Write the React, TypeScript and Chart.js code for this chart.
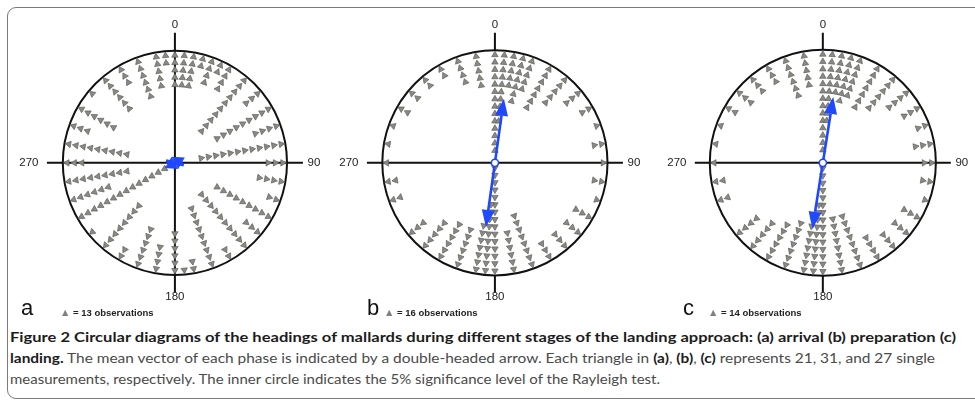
import React, { useEffect, useLayoutEffect, useRef } from "react";
import { Chart, registerables } from "chart.js";

Chart.register(...registerables);

// Headings (degrees clockwise from north) and number of stacked triangles at each heading
const arrivalHeadings = [0, 5, 10, 15, 20, 25, 30, 40, 50, 60, 70, 80, 90, 100, 110, 120, 130, 140, 150, 160, 170, 175, 180, 190, 200, 210, 220, 230, 240, 250, 260, 270, 280, 290, 300, 310, 320, 330, 340, 350, 355];
const arrivalCounts = [5, 5, 5, 2, 4, 2, 4, 10, 3, 9, 4, 12, 3, 4, 2, 9, 3, 10, 2, 9, 2, 1, 6, 4, 6, 2, 8, 1, 14, 6, 9, 3, 9, 3, 6, 1, 6, 3, 6, 5, 2];

const preparationHeadings = [0, 5, 10, 15, 20, 30, 40, 50, 60, 70, 80, 90, 100, 110, 120, 130, 140, 150, 160, 170, 180, 185, 190, 200, 210, 220, 230, 250, 260, 270, 280, 290, 300, 310, 320, 330, 340, 350];
const preparationCounts = [14, 10, 5, 7, 5, 7, 5, 3, 2, 1, 2, 1, 2, 1, 3, 3, 3, 3, 8, 6, 15, 10, 7, 6, 6, 5, 3, 2, 2, 1, 1, 1, 2, 2, 2, 2, 4, 5];

const landingHeadings = [0, 5, 10, 15, 20, 30, 40, 50, 60, 70, 80, 90, 100, 110, 120, 130, 140, 150, 160, 170, 180, 185, 190, 200, 210, 220, 230, 250, 260, 270, 280, 290, 300, 310, 320, 330, 340, 350];
const landingCounts = [14, 10, 6, 7, 6, 7, 6, 4, 3, 2, 3, 2, 2, 1, 3, 3, 3, 4, 8, 8, 15, 10, 8, 7, 6, 5, 4, 2, 2, 1, 1, 1, 2, 3, 3, 3, 6, 5];

// Mean vector per phase: direction (deg) and length (fraction of outer radius)
const meanAngles = [62, 8, 9];
const meanLengths = [0.1, 0.575, 0.59];

// Observations represented by one triangle
const observationsPerTriangle = [13, 16, 14];

const tickLabels = ["0", "90", "180", "270"];
const panelLetters = ["a", "b", "c"];

const BLUE = "#1f48ff";

type PanelSpec = {
  headings: number[];
  counts: number[];
  meanAngle: number;
  meanLength: number;
  left: number;
  width: number;
  cx: number;
  radius: number;
  fullVertical: boolean;
};

const CANVAS_TOP = 8;
const CANVAS_H = 300;
const CENTER_Y = 163;

const panels: PanelSpec[] = [
  { headings: arrivalHeadings, counts: arrivalCounts, meanAngle: meanAngles[0], meanLength: meanLengths[0], left: 12, width: 320, cx: 175, radius: 115.5, fullVertical: true },
  { headings: preparationHeadings, counts: preparationCounts, meanAngle: meanAngles[1], meanLength: meanLengths[1], left: 332, width: 320, cx: 495, radius: 116, fullVertical: false },
  { headings: landingHeadings, counts: landingCounts, meanAngle: meanAngles[2], meanLength: meanLengths[2], left: 660, width: 315, cx: 823, radius: 116.5, fullVertical: false },
];

function CircularPanel({ spec }: { spec: PanelSpec }) {
  const canvasRef = useRef<HTMLCanvasElement>(null);

  useEffect(() => {
    const canvas = canvasRef.current;
    if (!canvas) return;
    const R = spec.radius;
    const cxIn = spec.cx - spec.left;
    const cyIn = CENTER_Y - CANVAS_TOP;

    // stacked triangles, outermost first, pointing outward along the heading
    const firstOffset = 4.5 / R;
    const step = 7.6 / R;
    const points: { x: number; y: number }[] = [];
    const rotations: number[] = [];
    spec.headings.forEach((h, i) => {
      const a = (h * Math.PI) / 180;
      for (let k = 0; k < spec.counts[i]; k++) {
        const r = 1 - firstOffset - k * step;
        points.push({ x: r * Math.sin(a), y: r * Math.cos(a) });
        rotations.push(h);
      }
    });

    const frame = {
      id: "polarFrame",
      beforeDatasetsDraw(chart: any) {
        const { ctx } = chart;
        const xs = chart.scales.x;
        const ys = chart.scales.y;
        const cx = xs.getPixelForValue(0);
        const cy = ys.getPixelForValue(0);
        const rp = xs.getPixelForValue(1) - cx;
        ctx.save();
        ctx.strokeStyle = "#111";
        ctx.lineWidth = 2;
        ctx.beginPath();
        ctx.moveTo(cx - 128, cy);
        ctx.lineTo(cx + 128, cy);
        if (spec.fullVertical) {
          ctx.moveTo(cx, cy - 130);
          ctx.lineTo(cx, cy + 130);
        } else {
          ctx.moveTo(cx, cy - 130);
          ctx.lineTo(cx, cy - rp);
          ctx.moveTo(cx, cy + rp);
          ctx.lineTo(cx, cy + 130);
        }
        ctx.stroke();
        ctx.beginPath();
        ctx.arc(cx, cy, rp, 0, Math.PI * 2);
        ctx.stroke();
        ctx.restore();
      },
      afterDatasetsDraw(chart: any) {
        const { ctx } = chart;
        const xs = chart.scales.x;
        const ys = chart.scales.y;
        const cx = xs.getPixelForValue(0);
        const cy = ys.getPixelForValue(0);
        const rp = xs.getPixelForValue(1) - cx;

        // double-headed mean vector
        const a = (spec.meanAngle * Math.PI) / 180;
        const ux = Math.sin(a);
        const uy = -Math.cos(a);
        const px = Math.cos(a);
        const py = Math.sin(a);
        const L = spec.meanLength * rp;
        const headLen = Math.min(17, L);
        const headHalf = headLen < 17 ? 7 : 6.5;
        ctx.save();
        ctx.strokeStyle = BLUE;
        ctx.fillStyle = BLUE;
        ctx.lineWidth = 2.6;
        ctx.beginPath();
        ctx.moveTo(cx - ux * (L - headLen), cy - uy * (L - headLen));
        ctx.lineTo(cx + ux * (L - headLen), cy + uy * (L - headLen));
        ctx.stroke();
        for (const s of [1, -1]) {
          const tx = cx + s * ux * L;
          const ty = cy + s * uy * L;
          const bx = cx + s * ux * (L - headLen);
          const by = cy + s * uy * (L - headLen);
          ctx.beginPath();
          ctx.moveTo(tx, ty);
          ctx.lineTo(bx + px * headHalf, by + py * headHalf);
          ctx.lineTo(bx - px * headHalf, by - py * headHalf);
          ctx.closePath();
          ctx.fill();
        }
        if (spec.fullVertical) {
          // short cross-bar that gives the tiny vector its star-like look
          ctx.beginPath();
          ctx.moveTo(cx - 9, cy - 2);
          ctx.lineTo(cx + 9, cy + 2);
          ctx.lineWidth = 3.5;
          ctx.stroke();
        } else {
          ctx.beginPath();
          ctx.arc(cx, cy, 3.6, 0, Math.PI * 2);
          ctx.fillStyle = "#ffffff";
          ctx.fill();
          ctx.lineWidth = 1.6;
          ctx.stroke();
        }

        // direction labels
        ctx.fillStyle = "#222";
        ctx.font = "11.5px 'Liberation Sans', Arial, sans-serif";
        ctx.textAlign = "center";
        ctx.textBaseline = "middle";
        ctx.fillText(tickLabels[0], cx, cy - 138);
        ctx.fillText(tickLabels[1], cx + 139, cy);
        ctx.fillText(tickLabels[2], cx, cy + 134);
        ctx.fillText(tickLabels[3], cx - 146, cy);
        ctx.restore();
      },
    };

    const chart = new Chart(canvas, {
      type: "scatter",
      data: {
        datasets: [
          {
            data: points,
            pointStyle: "triangle",
            pointRadius: 3.7,
            pointRotation: (c: any) => rotations[c.dataIndex] ?? 0,
            backgroundColor: "#8a8a85",
            borderColor: "#5e5e5a",
            borderWidth: 0.7,
            clip: false as any,
          },
        ],
      },
      options: {
        responsive: false,
        maintainAspectRatio: false,
        animation: false,
        events: [],
        layout: { padding: 0 },
        plugins: { legend: { display: false }, tooltip: { enabled: false } },
        scales: {
          x: { type: "linear", display: false, min: -cxIn / R, max: (spec.width - cxIn) / R },
          y: { type: "linear", display: false, min: -(CANVAS_H - cyIn) / R, max: cyIn / R },
        },
      },
      plugins: [frame as any],
    });
    return () => chart.destroy();
  }, [spec]);

  return (
    <canvas
      ref={canvasRef}
      width={spec.width}
      height={CANVAS_H}
      style={{ position: "absolute", left: spec.left, top: CANVAS_TOP, width: spec.width, height: CANVAS_H }}
    />
  );
}

function FitLine({ top, target, children }: { top: number; target: number; children: React.ReactNode }) {
  const ref = useRef<HTMLDivElement>(null);
  useLayoutEffect(() => {
    const fit = () => {
      const el = ref.current;
      if (!el) return;
      el.style.transform = "none";
      const w = el.getBoundingClientRect().width;
      if (w > 0) el.style.transform = `scaleX(${target / w})`;
    };
    fit();
    if ((document as any).fonts?.ready) (document as any).fonts.ready.then(fit);
  });
  return (
    <div
      ref={ref}
      style={{
        position: "absolute",
        left: 10,
        top,
        whiteSpace: "nowrap",
        transformOrigin: "0 0",
        fontFamily: "Lato, 'Open Sans', sans-serif",
        fontSize: 14,
        lineHeight: "20px",
        color: "#4a4a4a",
      }}
    >
      {children}
    </div>
  );
}

const legendLefts = [60, 384, 708];
const letterLefts = [21, 367, 683];

export default function App() {
  const b = (t: string) => <span style={{ fontWeight: 700, color: "#1c1c1c" }}>{t}</span>;
  return (
    <div style={{ position: "absolute", left: 0, top: 0, width: 975, height: 401, overflow: "hidden", background: "#fff" }}>
      <div
        style={{
          position: "absolute",
          left: 7,
          top: 7,
          width: 990,
          height: 390,
          border: "1px solid #7a7a7a",
          borderRadius: 9,
        }}
      />
      {panels.map((p, i) => (
        <CircularPanel key={i} spec={p} />
      ))}
      {panelLetters.map((l, i) => (
        <div
          key={l}
          style={{
            position: "absolute",
            left: letterLefts[i],
            top: 297,
            fontFamily: "'Liberation Sans', Arial, sans-serif",
            fontSize: 22,
            lineHeight: "22px",
            color: "#111",
          }}
        >
          {l}
        </div>
      ))}
      {observationsPerTriangle.map((n, i) => (
        <div
          key={i}
          style={{
            position: "absolute",
            left: legendLefts[i],
            top: 306,
            fontFamily: "'Liberation Sans', Arial, sans-serif",
            fontSize: 9.5,
            lineHeight: "12px",
            fontWeight: 700,
            color: "#222",
            whiteSpace: "nowrap",
          }}
        >
          <span style={{ color: "#808080", fontSize: 10.5 }}>▲</span> = {n} observations
        </div>
      ))}
      <FitLine top={327} target={946}>
        {b("Figure 2 Circular diagrams of the headings of mallards during different stages of the landing approach: (a) arrival (b) preparation (c)")}
      </FitLine>
      <FitLine top={348} target={925}>
        {b("landing.")} The mean vector of each phase is indicated by a double-headed arrow. Each triangle in {b("(a)")}, {b("(b)")}, {b("(c)")} represents 21, 31, and 27 single
      </FitLine>
      <FitLine top={369} target={650}>
        measurements, respectively. The inner circle indicates the 5% significance level of the Rayleigh test.
      </FitLine>
    </div>
  );
}
